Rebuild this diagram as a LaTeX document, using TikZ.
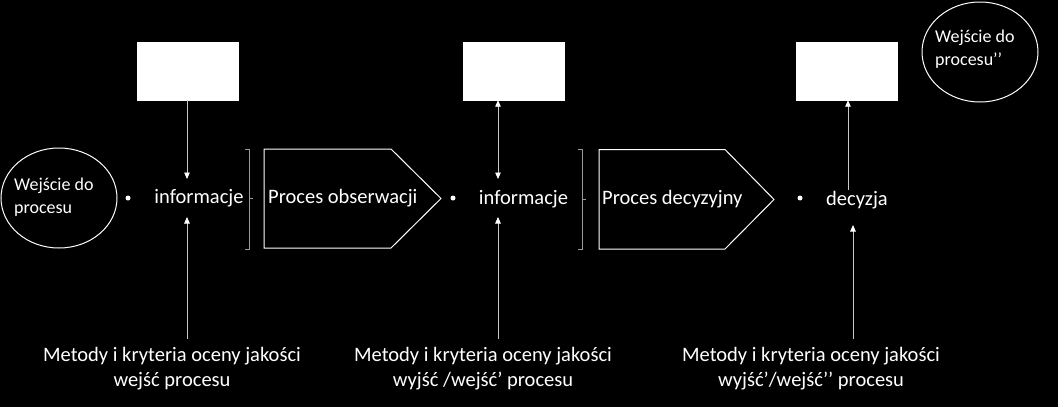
\documentclass[tikz,border=0pt]{standalone}
\usepackage{fontspec}
\setmainfont{Carlito}
\usetikzlibrary{arrows.meta,shapes.geometric}
\definecolor{linegray}{HTML}{C8C8C8}
\definecolor{bracegray}{HTML}{9A9A9A}
\begin{document}
\begin{tikzpicture}[x=1pt,y=-1pt,
  txt/.style={text=white,font=\fontsize{20.5}{24}\selectfont,inner sep=0pt},
  ctxt/.style={text=white,font=\fontsize{18}{23}\selectfont,inner sep=0pt,align=left},
  lbl/.style={text=white,font=\fontsize{20.5}{25}\selectfont,inner sep=0pt,align=center},
  wbox/.style={fill=white,draw=white,minimum width=101pt,minimum height=58pt,inner sep=0pt},
  oval/.style={ellipse,draw=white,line width=1pt,minimum width=116pt,minimum height=100pt,inner sep=0pt},
  pent/.style={draw=white,line width=1pt},
  brace/.style={draw=bracegray,line width=0.9pt},
  dotn/.style={circle,fill=white,minimum size=5pt,inner sep=0pt},
  arr/.style={draw=linegray,line width=0.9pt,-{Triangle[width=5.5pt,length=6.5pt,color=white]}},
  darr/.style={draw=linegray,line width=0.9pt,{Triangle[width=5.5pt,length=6.5pt,color=white]}-{Triangle[width=5.5pt,length=6.5pt,color=white]}},
  ln/.style={draw=linegray,line width=0.9pt}
]
\fill[black] (0,0) rectangle (1058,407);
\useasboundingbox (0,0) rectangle (1058,407);

% input ellipses
\node[oval] (e1) at (59,198) {};
\node[ctxt,anchor=west] (e1t) at (14,197) {Wejście do\\procesu};
\node[oval] (e2) at (980,52) {};
\node[ctxt,anchor=west] (e2t) at (935,49) {Wejście do\\procesu’’};

% white boxes
\node[wbox] (b1) at (187.5,71) {};
\node[wbox] (b2) at (514,71) {};
\node[wbox] (b3) at (847,71) {};

% dots
\node[dotn] (d1) at (128,198) {};
\node[dotn] (d2) at (453,198) {};
\node[dotn] (d3) at (800,198) {};

% middle texts
\node[txt] (i1) at (199,198) {informacje};
\node[txt] (i2) at (523.5,199) {informacje};
\node[txt] (dc) at (857,200) {decyzja};

% braces
\draw[brace] (245,149) -- (249,149) -- (249,249) -- (245,249);
\draw[brace] (249,198) -- (253,198);
\draw[brace] (578,149) -- (582,149) -- (582,249) -- (578,249);
\draw[brace] (582,199) -- (586,199);

% pentagons
\draw[pent] (264,149) -- (391,149) -- (441,198.5) -- (391,248) -- (264,248) -- cycle;
\node[txt,anchor=west] (p1) at (268,198) {Proces obserwacji};
\draw[pent] (599,149.5) -- (725,149.5) -- (774,199.5) -- (725,249) -- (599,249) -- cycle;
\node[txt,anchor=west] (p2) at (602,199) {Proces decyzyjny};

% bottom labels
\node[lbl] (l1) at (172,369) {Metody i kryteria oceny jakości\\wejść procesu};
\node[lbl] (l2) at (483,369) {Metody i kryteria oceny jakości\\wyjść /wejść’ procesu};
\node[lbl] (l3) at (811,369) {Metody i kryteria oceny jakości\\wyjść’/wejść’’ procesu};

% connector coordinates
\coordinate (a1t) at (187,179);
\coordinate (a1b) at (187,217);
\coordinate (a1s) at (187,339);
\coordinate (a2t) at (498,179);
\coordinate (a2b) at (498,217);
\coordinate (a2s) at (498,339);
\coordinate (a3t) at (848,190);
\coordinate (a3b) at (853,225);
\coordinate (a3s) at (853,339);

% connectors
\draw[arr] (b1.south -| a1t) -- (a1t);
\draw[arr] (a1s) -- (a1b);
\draw[darr] (b2.south -| a2t) -- (a2t);
\draw[arr] (a2s) -- (a2b);
\draw[arr] (a3t) -- (b3.south -| a3t);
\draw[arr] (a3s) -- (a3b);
\end{tikzpicture}
\end{document}
